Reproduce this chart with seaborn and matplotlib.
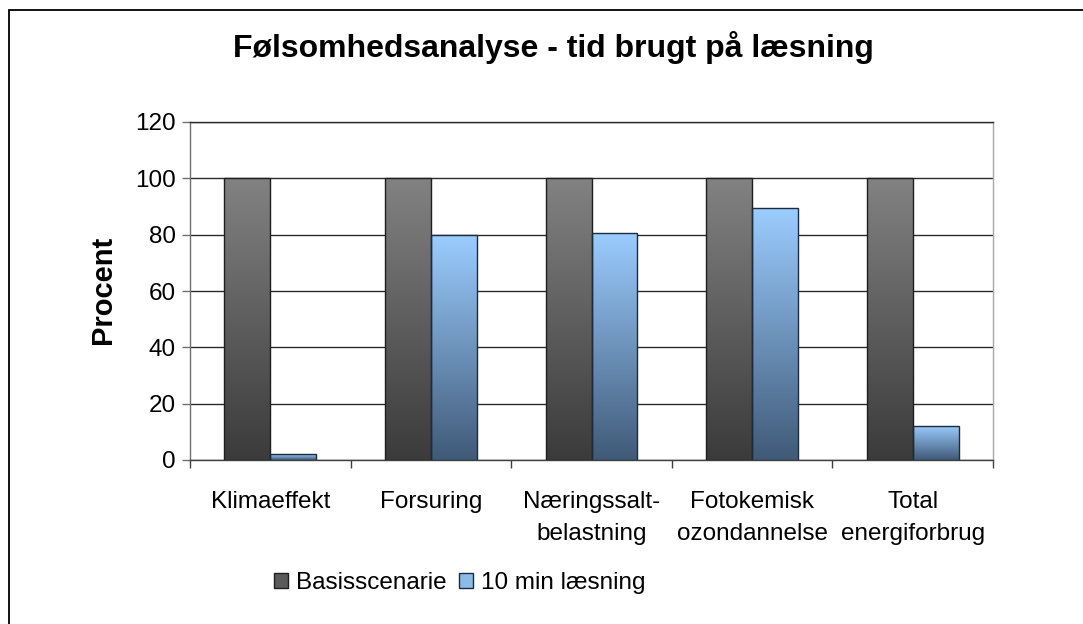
import numpy as np
import pandas as pd
import matplotlib
matplotlib.use("Agg")
import matplotlib.pyplot as plt
from matplotlib.colors import LinearSegmentedColormap
from matplotlib.patches import Rectangle, Patch
import seaborn as sns

categories = ["Klimaeffekt", "Forsuring", "Næringssalt-\nbelastning",
              "Fotokemisk\nozondannelse", "Total\nenergiforbrug"]
series = ["Basisscenarie", "10 min læsning"]
basis = [100, 100, 100, 100, 100]
laesning = [2.1, 79.8, 80.6, 89.3, 12.2]
yticks = [0, 20, 40, 60, 80, 100, 120]

sns.set_theme(style="white")
plt.rcParams['font.family'] = ['Liberation Sans', 'DejaVu Sans']
plt.rcParams['text.color'] = 'black'
plt.rcParams['xtick.labelcolor'] = 'black'
plt.rcParams['ytick.labelcolor'] = 'black'

df = pd.DataFrame({
    "kategori": categories * 2,
    "serie": [series[0]] * 5 + [series[1]] * 5,
    "procent": basis + laesning,
})

fig = plt.figure(figsize=(10.83, 6.24), dpi=100)
ax = fig.add_axes([190/1083, 1-460/624, 803/1083, 338/624])

sns.barplot(data=df, x="kategori", y="procent", hue="serie", ax=ax,
            palette=["#606060", "#7aa8d8"], width=0.571, saturation=1,
            legend=False, zorder=3)

# gradient fill clipped to each bar
cmaps = {
    0: LinearSegmentedColormap.from_list("gr", ["#3b3b3b", "#828282"]),
    1: LinearSegmentedColormap.from_list("bl", ["#405a78", "#9bcdff"]),
}
grad = np.linspace(0, 1, 256).reshape(-1, 1)
for i, p in enumerate(ax.patches[:10]):
    s = i // 5
    x, y = p.get_x(), p.get_y()
    w, h = p.get_width(), p.get_height()
    im = ax.imshow(grad, extent=[x, x + w, y, y + h], origin="lower",
                   aspect="auto", cmap=cmaps[s], zorder=3)
    im.set_clip_path(p)
    p.set_facecolor("none")
    p.set_edgecolor("#1e1e1e" if s == 0 else "#1c2c3c")
    p.set_linewidth(1.0)
    p.set_zorder(4)

ax.set_xlim(-0.5, 4.5)
ax.set_ylim(0, 120)
ax.set_aspect("auto")

ax.set_yticks(yticks)
ax.yaxis.grid(True, color="#2a2a2a", linewidth=1.0, zorder=0)
ax.set_axisbelow(True)
ax.tick_params(axis="y", length=6, width=1, color="#707070", labelsize=17.5,
               pad=4, left=True)
ax.set_xticks(range(5))
ax.set_xticklabels(categories, linespacing=1.62)
ax.set_xticks(np.arange(-0.5, 5, 1), minor=True)
ax.tick_params(axis="x", which="major", length=0, labelsize=17.5, pad=22)
ax.tick_params(axis="x", which="minor", length=6, width=1, color="#404040",
               bottom=True)
ax.set_xlabel("")
ax.set_ylabel("")

for side in ["left", "right", "top", "bottom"]:
    ax.spines[side].set_visible(True)
ax.spines["left"].set_color("#707070")
ax.spines["right"].set_color("#a8a8a8")
ax.spines["top"].set_color("#2a2a2a")
ax.spines["bottom"].set_color("#404040")
for sp in ax.spines.values():
    sp.set_linewidth(1.0)

fig.text(553/1083, 1-57/624, "Følsomhedsanalyse - tid brugt på læsning",
         ha="center", va="baseline", fontsize=23, fontweight="bold",
         color="black")
fig.text(103/1083, 1-290/624, "Procent", rotation=90, ha="center",
         va="center", fontsize=21, fontweight="bold", color="black")

handles = [Patch(facecolor="#5a5a5a", edgecolor="#1e1e1e", lw=1),
           Patch(facecolor="#8dbbe8", edgecolor="#1c2c3c", lw=1)]
fig.legend(handles, series, loc="center", bbox_to_anchor=(460/1083, 1-583/624),
           ncol=2, frameon=False, fontsize=17.5, handlelength=0.55,
           handleheight=0.55, handletextpad=0.35, columnspacing=0.5,
           labelcolor="black")

fig.patches.append(Rectangle((9/1083, -0.1), 1.2, 1.1 - 10/624,
                             transform=fig.transFigure, fill=False,
                             edgecolor="black", linewidth=1.3))

fig.savefig("out.png", dpi=100)
